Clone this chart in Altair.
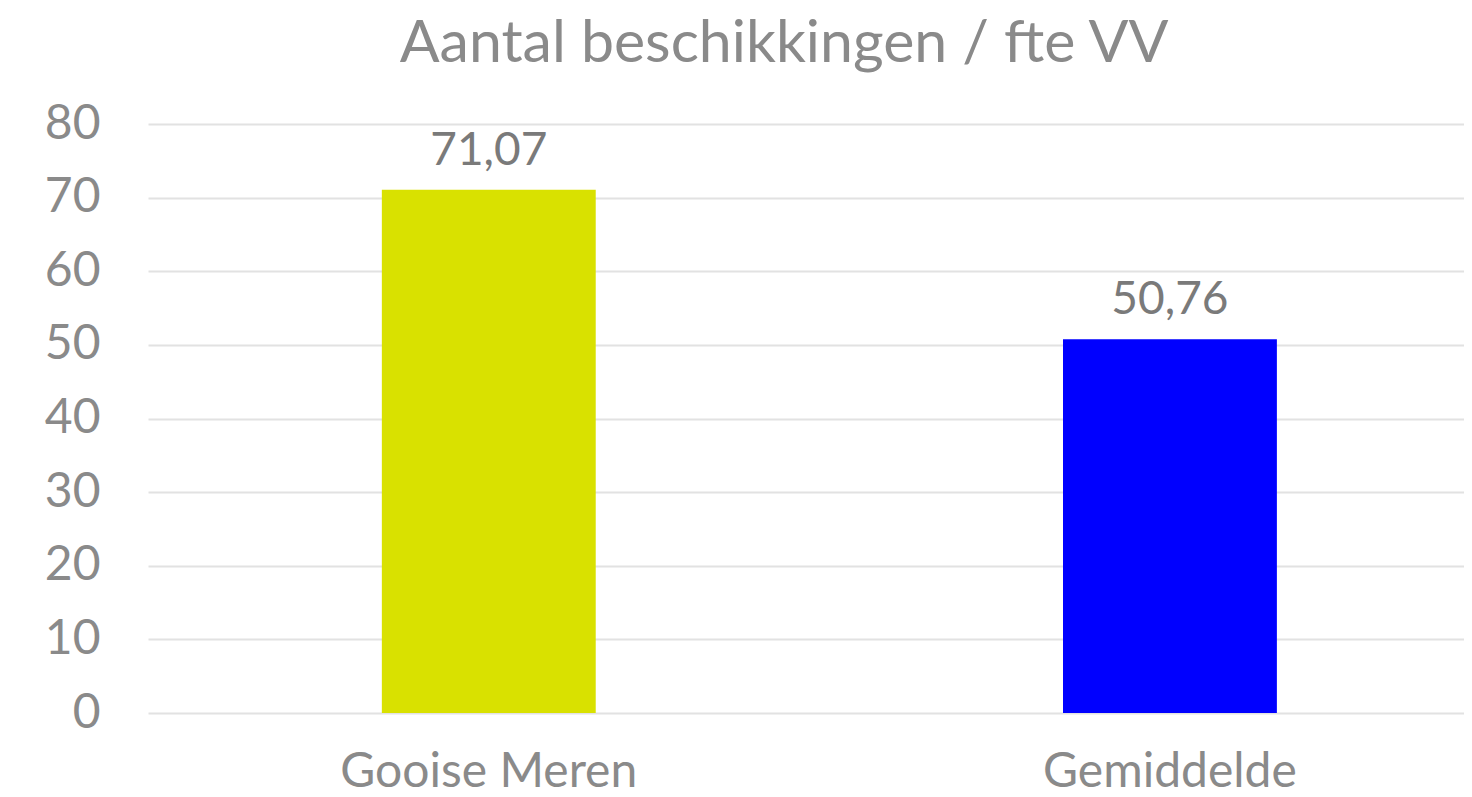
import altair as alt
import pandas as pd

categories = ["Gooise Meren", "Gemiddelde"]
values = [71.07, 50.76]
colors = ["#D9E100", "#0000FF"]
y_ticks = [0, 10, 20, 30, 40, 50, 60, 70, 80]

df = pd.DataFrame({
    "cat": categories,
    "val": values,
    "color": colors,
    "label": [f"{v:.2f}".replace(".", ",") for v in values],
})

FONT = "Lato"
GREY = "#8a8a8a"

x = alt.X("cat:N", sort=categories, title=None,
          scale=alt.Scale(paddingInner=0.686, paddingOuter=0.309, align=0.5555),
          axis=alt.Axis(labelAngle=0, labelFontSize=48, labelColor=GREY, labelFont=FONT,
                        labelBaseline="alphabetic", labelPadding=73, labelLimit=0, ticks=False,
                        domain=False, grid=False))
y = alt.Y("val:Q", title=None,
          scale=alt.Scale(domain=[0, 80], nice=False),
          axis=alt.Axis(values=y_ticks, labelFontSize=48, labelColor=GREY, labelFont=FONT,
                        labelPadding=48, ticks=False, domain=False, grid=True,
                        gridColor="#e2e2e2", gridWidth=2))

bars = alt.Chart(df).mark_bar().encode(
    x=x, y=y, color=alt.Color("color:N", scale=None)
)
text = alt.Chart(df).mark_text(
    baseline="alphabetic", dy=-25, fontSize=46, font=FONT, color="#7a7a7a"
).encode(x=alt.X("cat:N", sort=categories), y="val:Q", text="label:N")

chart = (bars + text).properties(
    width=1316, height=589,
    autosize=alt.AutoSizeParams(type="none"),
    padding={"left": 140, "top": 116, "right": 0, "bottom": 76},
    title=alt.Title("Aantal beschikkingen / fte VV", fontSize=59, font=FONT, color=GREY,
                    fontWeight="normal", anchor="middle", frame="group",
                    baseline="alphabetic", offset=30, dx=-22, dy=51),
).configure_view(stroke=None)

chart.save("out.html", embed_options={"renderer": "svg", "actions": False})
